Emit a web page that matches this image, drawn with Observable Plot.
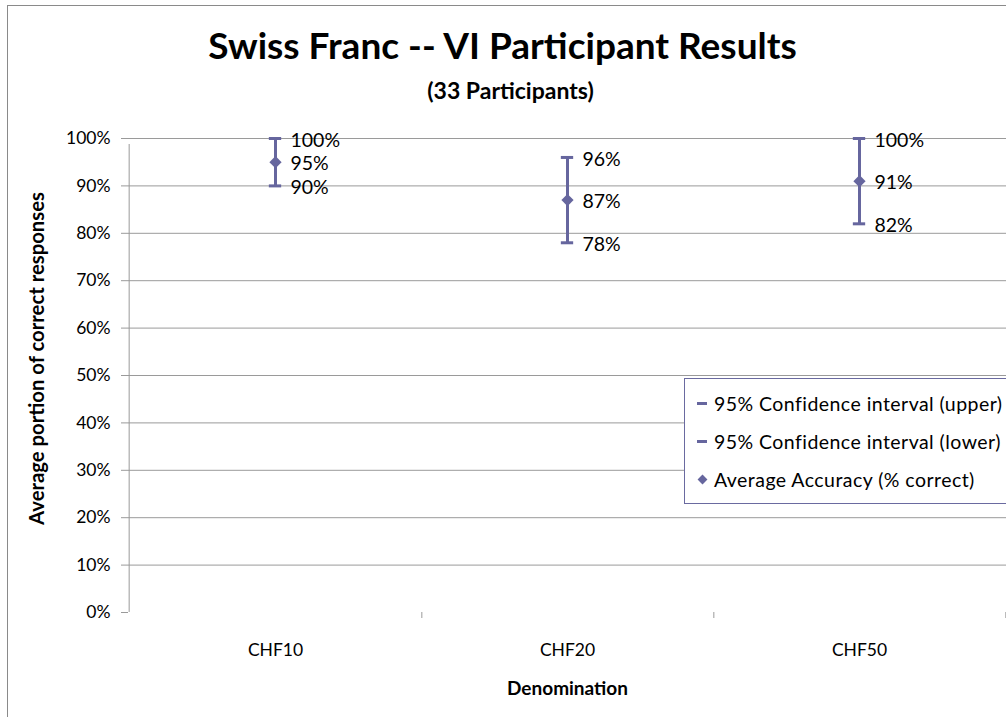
<!DOCTYPE html>
<html>
<head>
<meta charset="utf-8">
<script src="https://cdn.jsdelivr.net/npm/d3@7"></script>
<script src="https://cdn.jsdelivr.net/npm/@observablehq/plot@0.6"></script>
<style>
  html, body { margin: 0; padding: 0; background: #fff; }
  #wrap { position: relative; width: 1006px; height: 717px; overflow: hidden; font-family: Lato, "Open Sans", sans-serif; }
  #frame { position: absolute; left: 7px; top: 5px; width: 1100px; height: 800px; border-left: 1.5px solid #8a8a8a; border-top: 1.5px solid #8a8a8a; pointer-events: none; }
  #legend { position: absolute; left: 684px; top: 378px; width: 400px; height: 124px; border: 1px solid #6a6aa0; background: #fff; }
  .li { position: absolute; left: 12px; height: 20px; font-size: 19.5px; color: #000; display: flex; align-items: center; white-space: nowrap; letter-spacing: 0.45px; }
  .dash { width: 10px; height: 3px; background: #66669e; margin-right: 7px; }
  .dia { width: 7px; height: 7px; background: #66669e; transform: rotate(45deg); margin: 0 8px 0 2px; }
</style>
</head>
<body>
<div id="wrap">
  <div id="chart"></div>
  <div id="frame"></div>
  <div id="legend"></div>
</div>
<script>
const categories = ["CHF10", "CHF20", "CHF50"];
const upperCI = [1.00, 0.96, 1.00];
const meanAcc = [0.95, 0.87, 0.91];
const lowerCI = [0.90, 0.78, 0.82];
const yTicks = [0, 0.1, 0.2, 0.3, 0.4, 0.5, 0.6, 0.7, 0.8, 0.9, 1.0];
const legendLabels = ["95% Confidence interval (upper)", "95% Confidence interval (lower)", "Average Accuracy (% correct)"];
const titleText = "Swiss Franc -- VI Participant Results";
const subtitleText = "(33 Participants)";
const xTitle = "Denomination";
const yTitle = "Average portion of correct responses";

const color = "#66669e";
const rows = categories.map((c, i) => ({cat: c, upper: upperCI[i], mean: meanAcc[i], lower: lowerCI[i]}));
const labelRows = rows.flatMap(r => [
  {cat: r.cat, v: r.upper}, {cat: r.cat, v: r.mean}, {cat: r.cat, v: r.lower}
]);
const pct = d3.format(".0%");

const W = 1006, H = 717, mL = 128, mR = 0, mT = 138, mB = 105;
const bw = (W - mL - mR) / categories.length;
const capInset = (bw - 13) / 2;
const font = "Lato, 'Open Sans', sans-serif";

const chart = Plot.plot({
  width: W, height: H,
  marginLeft: mL, marginRight: mR, marginTop: mT, marginBottom: mB,
  style: {fontFamily: font, fontSize: "17px", color: "#000", background: "transparent"},
  x: {type: "band", domain: categories, padding: 0, axis: null},
  y: {domain: [0, 1], axis: null},
  marks: [
    Plot.gridY(yTicks.filter(d => d > 0), {stroke: "#9a9a9a", strokeOpacity: 1, strokeWidth: 1}),
    Plot.ruleY([0], {stroke: "#8a8a8a", strokeWidth: 1, dx: -7, x1: null}),
    Plot.ruleX([categories[0]], {stroke: "#9a9a9a", strokeWidth: 1, dx: -bw / 2, y1: 0, y2: 1, insetBottom: -6}),
    Plot.ruleX(categories, {stroke: "#9a9a9a", strokeWidth: 1, dx: bw / 2, y1: 0, y2: 0, insetBottom: -6}),
    Plot.axisY({ticks: yTicks, tickFormat: pct, tickSize: 7, tickPadding: 11, stroke: "#9a9a9a", fontSize: 17.5, label: null, color: "#000"}),
    Plot.axisX({tickSize: 0, tickPadding: 31, fontSize: 17.5, label: null}),
    Plot.ruleX(rows, {x: "cat", y1: "lower", y2: "upper", stroke: color, strokeWidth: 3}),
    Plot.tickY(rows, {x: "cat", y: "upper", stroke: color, strokeWidth: 3, insetLeft: capInset, insetRight: capInset}),
    Plot.tickY(rows, {x: "cat", y: "lower", stroke: color, strokeWidth: 3, insetLeft: capInset, insetRight: capInset}),
    Plot.dot(rows, {x: "cat", y: "mean", symbol: "diamond2", r: 5.5, fill: color, stroke: null}),
    Plot.text(labelRows, {x: "cat", y: "v", text: d => pct(d.v), dx: 15, dy: 2, textAnchor: "start", fontSize: 19.5, fill: "#000"}),
    Plot.text([titleText], {frameAnchor: "top", lineAnchor: "middle", dx: -65, dy: -91, fontSize: 37, fontWeight: "bold", fill: "#000"}),
    Plot.text([subtitleText], {frameAnchor: "top", lineAnchor: "middle", dx: -57, dy: -47, fontSize: 23, fontWeight: "bold", fill: "#000"}),
    Plot.text([xTitle], {frameAnchor: "bottom", lineAnchor: "middle", dy: 76, fontSize: 19, fontWeight: "bold", fill: "#000"}),
    Plot.text([yTitle], {frameAnchor: "left", textAnchor: "middle", lineAnchor: "middle", dx: -91, dy: -17, rotate: -90, fontSize: 20.3, fontWeight: "bold", fill: "#000"})
  ]
});
document.getElementById("chart").appendChild(chart);

const leg = document.getElementById("legend");
legendLabels.forEach((t, i) => {
  const d = document.createElement("div");
  d.className = "li";
  d.style.top = (14 + i * 38) + "px";
  const m = document.createElement("span");
  m.className = i < 2 ? "dash" : "dia";
  d.appendChild(m);
  d.appendChild(document.createTextNode(t));
  leg.appendChild(d);
});
</script>
</body>
</html>
